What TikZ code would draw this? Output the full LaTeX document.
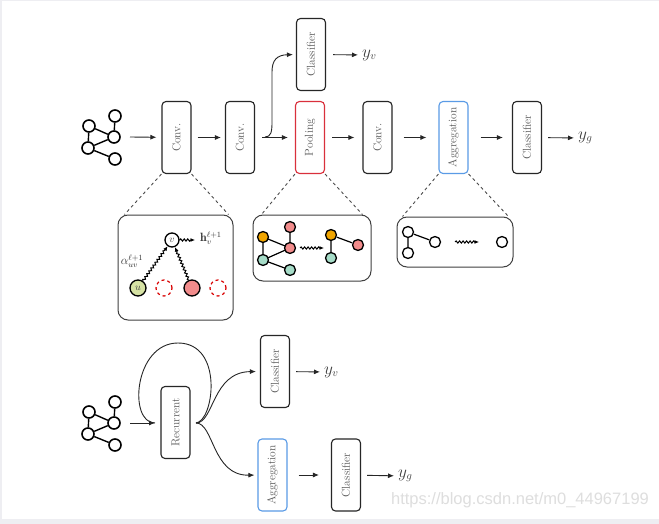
\documentclass[tikz,border=0pt]{standalone}
\usepackage{fontspec}
\newfontfamily\wmfont{Liberation Sans}
\usetikzlibrary{arrows.meta,decorations.pathmorphing,calc}
\definecolor{poolred}{HTML}{D9303C}
\definecolor{aggblue}{HTML}{5A9BE6}
\definecolor{nodeorange}{HTML}{F0A500}
\definecolor{nodered}{HTML}{F28C8C}
\definecolor{nodeteal}{HTML}{A6DCC8}
\definecolor{nodegreen}{HTML}{D6E2A4}
\definecolor{frame}{HTML}{EEEEF2}
\tikzset{
  box/.style={draw=black!85, line width=1.1pt, rounded corners=4pt, minimum width=29pt, minimum height=72pt, inner sep=0pt, fill=white, text=black!65, font=\fontsize{11.5}{13}\selectfont},
  redbox/.style={box, draw=poolred},
  bluebox/.style={box, draw=aggblue},
  arr/.style={-{Latex[length=6pt,width=5pt]}, line width=0.9pt, draw=black!85},
  gnode/.style={circle, draw=black, line width=1.6pt, fill=white, minimum size=12pt, inner sep=0pt},
  gedge/.style={line width=1.4pt},
  snode/.style={circle, draw=black, line width=1.3pt, fill=white, minimum size=11pt, inner sep=0pt},
  zoombox/.style={draw=black!75, line width=1pt, rounded corners=10pt, inner sep=0pt},
  dashl/.style={line width=0.9pt, draw=black!70, dash pattern=on 3pt off 3pt},
  snakearr/.style={decorate, decoration={snake, amplitude=1.1pt, segment length=3.5pt, post length=4pt}, -{Latex[length=4.5pt,width=4pt]}, line width=1pt},
  outlbl/.style={anchor=west, inner sep=0pt, font=\fontsize{16}{18}\selectfont, text=black!75},
}
\begin{document}
\begin{tikzpicture}[x=1pt,y=-1pt]
\fill[frame] (0,0) rectangle (659,524);
\fill[white] (2,1) rectangle (659,519);
\useasboundingbox (0,0) rectangle (659,524);

% ---------- top row: input graph ----------
\node[gnode] (g1) at (115,116) {};
\node[gnode] (g2) at (89,126) {};
\node[gnode] (g3) at (114,137) {};
\node[gnode] (g4) at (88,148) {};
\node[gnode] (g5) at (115,159) {};
\draw[gedge] (g2) -- (g3) (g4) -- (g3) (g4) -- (g5) (g2) -- (g4) (g1) -- (g3);

\node[box] (c1) at (176.5,137.5) {\rotatebox{90}{Conv.}};
\node[box] (c2) at (240,137.5) {\rotatebox{90}{Conv.}};
\node[redbox] (pool) at (310,137.5) {\rotatebox{90}{Pooling}};
\node[box] (c3) at (377.5,137.5) {\rotatebox{90}{Conv.}};
\node[bluebox] (agg) at (453.5,137.5) {\rotatebox{90}{Aggregation}};
\node[box] (clf2) at (527,137.5) {\rotatebox{90}{Classifier}};
\node[box] (clf1) at (311,54.5) {\rotatebox{90}{Classifier}};
\node[outlbl] (yv) at (362,55) {$y_v$};
\node[outlbl] (yg) at (578,138) {$y_g$};

\coordinate (gin) at (130,137);
\coordinate (br1) at (265,137);
\draw[arr, shorten >=5pt] (gin) -- (c1);
\draw[arr, shorten <=6pt, shorten >=4pt] (c1) -- (c2);
\draw[arr, shorten <=7pt, shorten >=7pt] (c2) -- (pool);
\draw[arr, shorten <=7pt, shorten >=8pt] (pool) -- (c3);
\draw[arr, shorten <=11pt, shorten >=12pt] (c3) -- (agg);
\draw[arr, shorten <=12pt, shorten >=9pt] (agg) -- (clf2);
\draw[arr, shorten <=6pt, shorten >=4pt] (clf2) -- (yg);
\draw[arr, shorten <=7pt, shorten >=4pt] (clf1) -- (yv);
\draw[arr, shorten >=3pt] (br1) .. controls (271,137) and (272,132) .. (272,122) -- (272,72) .. controls (272,60) and (277,55) .. (clf1.west);

% ---------- zoom boxes ----------
\node[zoombox, minimum width=115pt, minimum height=105pt] (z1) at (175.5,267.5) {};
\node[zoombox, minimum width=118pt, minimum height=66pt] (z2) at (312,248) {};
\node[zoombox, minimum width=116pt, minimum height=50pt] (z3) at (455,242) {};
\draw[dashl] (c1.south west) -- ([xshift=7pt]z1.north west);
\draw[dashl] (c1.south east) -- ([xshift=-5pt]z1.north east);
\draw[dashl] (pool.south west) -- ([xshift=9pt]z2.north west);
\draw[dashl] (pool.south east) -- ([xshift=-9pt]z2.north east);
\draw[dashl] (agg.south west) -- ([xshift=6pt]z3.north west);
\draw[dashl] (agg.south east) -- ([xshift=-5pt]z3.north east);

% zoom 1: message passing
\node[snode, minimum size=14pt, font=\normalsize, text=black!75] (v) at (172,240) {$v$};
\node[snode, minimum size=16pt, fill=nodegreen, font=\normalsize, text=black!75] (u) at (138,288) {$u$};
\node[snode, minimum size=16pt, draw=red!85!black, dashed, line width=1.2pt] (d1) at (164,288) {};
\node[snode, minimum size=16pt, fill=nodered] (r1) at (192,288) {};
\node[snode, minimum size=16pt, draw=red!85!black, dashed, line width=1.2pt] (d2) at (218,288) {};
\coordinate (hv) at (195,240);
\draw[snakearr] (u) -- (v);
\draw[snakearr] (r1) -- (v);
\draw[snakearr] (v) -- (hv);
\node[anchor=west, inner sep=0pt, font=\fontsize{12}{14}\selectfont, text=black!80] (hlbl) at (200,238) {$\mathbf{h}_v^{\ell+1}$};
\node[inner sep=0pt, font=\fontsize{12}{14}\selectfont, text=black!80] (alpha) at (132,261) {$\alpha_{uv}^{\ell+1}$};

% zoom 2: pooling
\draw[gedge, line width=1.2pt] (263,237) -- (290,248) (263,237) -- (263,260) (263,260) -- (290,248) (263,260) -- (290,270) (290,227) -- (290,248);
\node[snode, fill=nodeorange] (a1) at (263,237) {};
\node[snode, fill=nodered] (a2) at (290,227) {};
\node[snode, fill=nodered] (a3) at (290,248) {};
\node[snode, fill=nodeteal] (a4) at (263,260) {};
\node[snode, fill=nodeteal] (a5) at (290,270) {};
\coordinate (ps) at (300,248);
\coordinate (pe) at (324,248);
\draw[snakearr] (ps) -- (pe);
\node[snode, fill=nodeorange] (b1) at (331,235) {};
\node[snode, fill=nodered] (b2) at (358,245) {};
\node[snode, fill=nodeteal] (b3) at (331,258) {};
\draw[gedge, line width=1.2pt] (b1) -- (b2) (b1) -- (b3);

% zoom 3: aggregation
\node[snode] (e1) at (408,232) {};
\node[snode] (e2) at (408,253) {};
\node[snode] (e3) at (435,242) {};
\draw[gedge, line width=1.2pt] (e1) -- (e2) (e1) -- (e3);
\coordinate (as) at (455,242);
\coordinate (ae) at (479,242);
\draw[snakearr] (as) -- (ae);
\node[snode] (e4) at (502,242) {};

% ---------- bottom row ----------
\node[gnode] (h1) at (115,402) {};
\node[gnode] (h2) at (89,412) {};
\node[gnode] (h3) at (114,423) {};
\node[gnode] (h4) at (88,434) {};
\node[gnode] (h5) at (115,445) {};
\draw[gedge] (h2) -- (h3) (h4) -- (h3) (h4) -- (h5) (h2) -- (h4) (h1) -- (h3);

\node[box] (rec) at (175.5,422.5) {\rotatebox{90}{Recurrent}};
\node[box] (clf3) at (275,371.5) {\rotatebox{90}{Classifier}};
\node[bluebox] (agg2) at (272.5,475) {\rotatebox{90}{Aggregation}};
\node[box] (clf4) at (346,475) {\rotatebox{90}{Classifier}};
\node[outlbl] (yv2) at (324,372) {$y_v$};
\node[outlbl] (yg2) at (398,476) {$y_g$};

\coordinate (hin) at (130,423);
\coordinate (hend) at (155,423);
\coordinate (br2) at (196,423);
\draw[arr] (hin) -- (hend);
\draw[line width=0.9pt, draw=black!85] (br2) .. controls (214,421) and (224,343) .. (178,343) .. controls (134,343) and (128,423) .. (hend);
\draw[arr, shorten >=4pt] (br2) .. controls (214,423) and (212,372) .. (clf3.west);
\draw[arr, shorten >=3pt] (br2) .. controls (214,423) and (212,476) .. (agg2.west);
\draw[arr, shorten <=11pt, shorten >=12pt] (agg2) -- (clf4);
\draw[arr, shorten <=6pt, shorten >=4pt] (clf3) -- (yv2);
\draw[arr, shorten <=6pt, shorten >=4pt] (clf4) -- (yg2);

% watermark
\node[inner sep=0pt, text=black!13, font=\wmfont\fontsize{16.5}{18}\selectfont] (wm) at (520,500) {https://blog.csdn.net/m0\_44967199};
\end{tikzpicture}
\end{document}
